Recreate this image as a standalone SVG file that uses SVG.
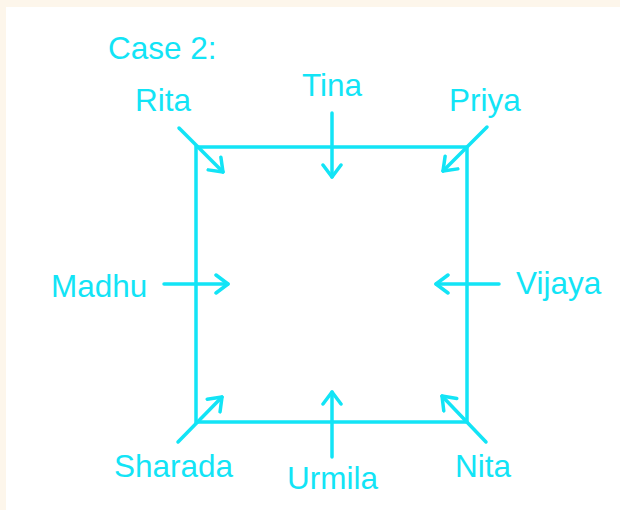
<svg xmlns="http://www.w3.org/2000/svg" width="620" height="510" viewBox="0 0 620 510">
  <defs>
    <style>
      .lbl { font-family: "Liberation Sans", Arial, sans-serif; font-size: 31.5px; fill: #12e4f6; }
      .ln { stroke: #12e4f6; stroke-width: 3.5; fill: none; stroke-linecap: round; }
    </style>
    <marker id="chev" markerUnits="userSpaceOnUse" viewBox="-14 -11 16 22" refX="0" refY="0" markerWidth="16" markerHeight="22" orient="auto">
      <path d="M-12,-9 L0,0 L-12,9" fill="none" stroke="#12e4f6" stroke-width="3.5" stroke-linecap="round" stroke-linejoin="round"/>
    </marker>
  </defs>
  <rect x="0" y="0" width="620" height="510" fill="#fdf6eb"/>
  <rect x="6" y="7" width="614" height="503" fill="#ffffff"/>

  <g id="title"><text class="lbl" x="108" y="59">Case 2:</text></g>

  <g id="square"><rect class="ln" x="196" y="147" width="271" height="275" stroke-linecap="butt"/></g>

  <g id="rita"><text class="lbl" x="135" y="111">Rita</text></g>
  <g id="tina"><text class="lbl" x="302" y="96">Tina</text></g>
  <g id="priya"><text class="lbl" x="449" y="111">Priya</text></g>
  <g id="madhu"><text class="lbl" x="51" y="297">Madhu</text></g>
  <g id="vijaya"><text class="lbl" x="516" y="294">Vijaya</text></g>
  <g id="sharada"><text class="lbl" x="114" y="477">Sharada</text></g>
  <g id="urmila"><text class="lbl" x="287" y="489">Urmila</text></g>
  <g id="nita"><text class="lbl" x="455" y="477">Nita</text></g>

  <g id="connectors">
    <line class="ln" x1="179" y1="128" x2="223" y2="172" marker-end="url(#chev)"/>
    <line class="ln" x1="332" y1="113" x2="332" y2="177" marker-end="url(#chev)"/>
    <line class="ln" x1="487" y1="127" x2="443" y2="171" marker-end="url(#chev)"/>
    <line class="ln" x1="164" y1="284" x2="228" y2="284" marker-end="url(#chev)"/>
    <line class="ln" x1="499" y1="284" x2="436" y2="284" marker-end="url(#chev)"/>
    <line class="ln" x1="178" y1="442" x2="222" y2="397" marker-end="url(#chev)"/>
    <line class="ln" x1="332" y1="457" x2="332" y2="392" marker-end="url(#chev)"/>
    <line class="ln" x1="486" y1="442" x2="442" y2="396" marker-end="url(#chev)"/>
  </g>
</svg>
